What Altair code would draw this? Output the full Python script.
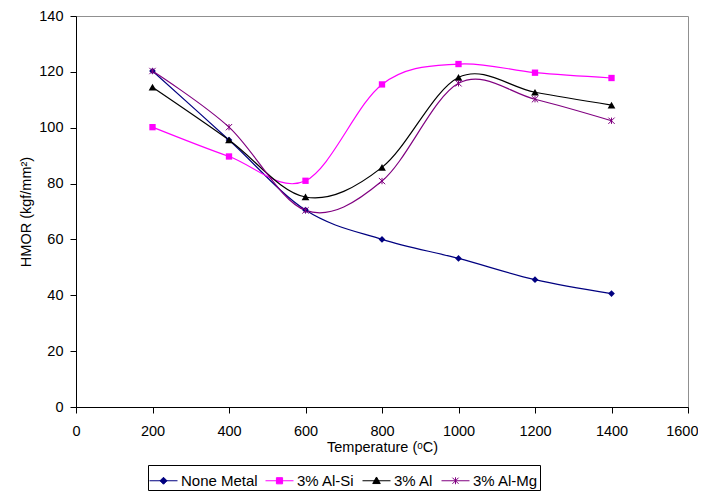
import altair as alt
import pandas as pd

temps = [200, 400, 600, 800, 1000, 1200, 1400]
none_metal = [120.3, 95.6, 70.5, 60.0, 53.2, 45.6, 40.6]
al_si = [100.2, 89.7, 81.0, 115.5, 122.8, 119.7, 117.8]
al = [114.5, 95.6, 75.2, 85.8, 118.0, 112.7, 108.1]
al_mg = [120.3, 100.2, 70.4, 80.9, 115.9, 110.2, 102.5]

series_names = ["None Metal", "3% Al-Si", "3% Al", "3% Al-Mg"]
series_values = [none_metal, al_si, al, al_mg]
colors = ["#000080", "#FF00FF", "#000000", "#800080"]

x_ticks = [0, 200, 400, 600, 800, 1000, 1200, 1400, 1600]
y_ticks = [0, 20, 40, 60, 80, 100, 120, 140]

# plot markers
marker_shapes = ["diamond", "square", "triangle-up", "M-1,-1L1,1M-1,1L1,-1M0,-1L0,1"]
marker_filled = [True, True, True, False]
marker_sizes = [45, 40, 60, 40]

# legend symbols: line segment + marker
legend_shapes = [
    "M-1,0L1,0M0,-0.25L0.25,0L0,0.25L-0.25,0Z",
    "M-1,0L1,0M-0.22,-0.22L0.22,-0.22L0.22,0.22L-0.22,0.22Z",
    "M-1,0L1,0M0,-0.27L0.27,0.2L-0.27,0.2Z",
    "M-1,0L1,0M-0.22,-0.22L0.22,0.22M-0.22,0.22L0.22,-0.22M0,-0.25L0,0.25",
]

rows = []
for name, vals in zip(series_names, series_values):
    for t, v in zip(temps, vals):
        rows.append({"series": name, "temp": t, "hmor": v})
df = pd.DataFrame(rows)

FONT = "Liberation Sans"

x_enc = alt.X(
    "temp:Q",
    scale=alt.Scale(domain=[0, 1600], nice=False),
    axis=alt.Axis(values=x_ticks, title="Temperature (ᵒC)", labelFlush=False,
                  labelPadding=11, titlePadding=3, format="d",
                  labelAlign={"expr": "datum.value >= 1600 ? 'right' : 'center'"},
                  labelOffset={"expr": "datum.value >= 1600 ? 10 : 0"}),
)
y_enc = alt.Y(
    "hmor:Q",
    scale=alt.Scale(domain=[0, 140], nice=False),
    axis=alt.Axis(values=y_ticks, title="HMOR (kgf/mm²)", labelFlush=False,
                  labelPadding=7, titlePadding=5, format="d"),
)
color_scale = alt.Scale(domain=series_names, range=colors)

layers = []
for name, col in zip(series_names, colors):
    layers.append(
        alt.Chart(df[df.series == name]).mark_line(
            interpolate="cardinal", tension=0, strokeWidth=1.2, color=col
        ).encode(x=x_enc, y=y_enc)
    )
for name, col, shp, fil, sz in zip(series_names, colors, marker_shapes, marker_filled, marker_sizes):
    layers.append(
        alt.Chart(df[df.series == name]).mark_point(
            shape=shp, filled=fil, size=sz, color=col, opacity=1, strokeWidth=1
        ).encode(x=x_enc, y=y_enc)
    )

leg = alt.Legend(
    title=None, orient="none", legendX=72, legendY=449, direction="horizontal",
    columns=4, symbolSize=784, symbolStrokeWidth=1, labelOffset=3, columnPadding=5,
    padding=1, strokeColor="black", labelFont=FONT, labelFontSize=15,
    labelColor="black",
    symbolStrokeColor={"expr": "scale('color', datum.value)"},
)
legend_layer = alt.Chart(df).transform_calculate(temp="datum.temp - 5000").mark_point(
    filled=True, clip=True, opacity=1
).encode(
    x=x_enc, y=y_enc,
    color=alt.Color("series:N", scale=color_scale, legend=leg),
    shape=alt.Shape("series:N", scale=alt.Scale(domain=series_names, range=legend_shapes), legend=leg),
)
layers.append(legend_layer)

chart = alt.layer(*layers).properties(
    width=612, height=391,
    autosize=alt.AutoSizeParams(type="none"),
    padding={"left": 68, "top": 8, "right": 10, "bottom": 84},
).configure_view(
    stroke="#909090", strokeWidth=1
).configure_axis(
    domainColor="black", tickColor="black", labelColor="black", titleColor="black",
    labelFont=FONT, titleFont=FONT, labelFontSize=14.5, titleFontSize=14.5,
    titleFontWeight="normal", grid=False, tickSize=6, domainWidth=1, tickWidth=1,
)

chart.save("out.html", embed_options={"renderer": "svg", "actions": False})
